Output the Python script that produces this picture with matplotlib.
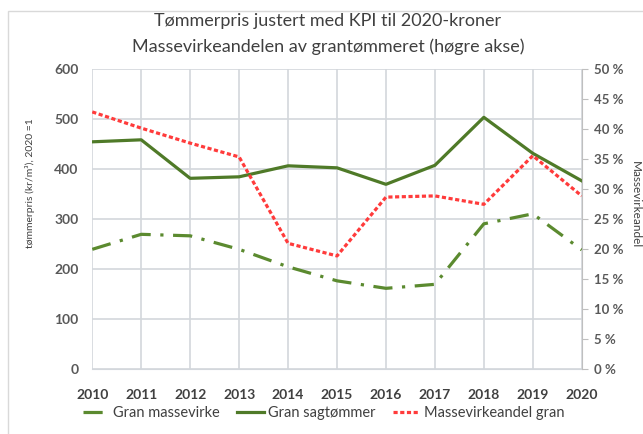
import matplotlib
matplotlib.use("Agg")
import matplotlib.pyplot as plt
from matplotlib.patches import Rectangle
from matplotlib.ticker import FuncFormatter

plt.rcParams['font.family'] = ['Lato', 'DejaVu Sans']

years = [2010, 2011, 2012, 2013, 2014, 2015, 2016, 2017, 2018, 2019, 2020]
massevirke = [240, 270, 267, 240, 205, 177, 162, 170, 291, 311, 239]
sagtommer = [455, 459, 382, 385, 407, 403, 370, 408, 504, 432, 377]
andel = [42.9, 40.2, 37.7, 35.4, 21.0, 18.9, 28.7, 28.9, 27.5, 35.6, 28.9]

green = '#4f7a28'
green2 = '#5b8a2f'
red = '#ff3b3b'
grid_c = '#d3d7dc'
txt_c = '#595959'

fig = plt.figure(figsize=(6.43, 4.34), dpi=100)
fig.patches.append(Rectangle((0.013, -0.01), 1.0, 0.985, transform=fig.transFigure,
                             fill=False, edgecolor='#d9d9d9', linewidth=1))

ax = fig.add_axes([0.1435, 0.149, 0.7612, 0.6913])
ax2 = ax.twinx()

l1, = ax.plot(years, massevirke, color=green2, lw=2.3, dashes=(6, 3, 1, 3),
              label='Gran massevirke')
l2, = ax.plot(years, sagtommer, color=green, lw=2.3, label='Gran sagtømmer')
l3, = ax2.plot(years, andel, color=red, lw=2.3, dashes=(1.3, 0.8), label='Massevirkeandel gran')

ax.set_xlim(2010, 2020)
ax.set_ylim(0, 600)
ax.set_yticks(range(0, 601, 100))
ax.set_xticks(years)
ax2.set_ylim(0, 50)
ax2.set_yticks(range(0, 51, 5))
ax2.yaxis.set_major_formatter(FuncFormatter(lambda v, p: f'{int(v)} %'))

ax.grid(True, color=grid_c, lw=1.2)
ax.set_axisbelow(True)
for s in ['top', 'left', 'right']:
    ax.spines[s].set_visible(False)
    ax2.spines[s].set_visible(False)
ax.spines['bottom'].set_color(grid_c)
ax2.spines['bottom'].set_visible(False)
ax2.spines['right'].set_visible(True)
ax2.spines['right'].set_color('#bfbfbf')

ax.tick_params(axis='y', length=0, labelsize=10, labelcolor=txt_c, pad=10)
ax.tick_params(axis='x', length=0, labelsize=10, labelcolor='#404040', pad=14)
ax2.tick_params(axis='y', length=4, color='#bfbfbf', labelsize=9.5, labelcolor=txt_c, pad=5)
for lab in ax.get_xticklabels() + ax.get_yticklabels() + ax2.get_yticklabels():
    lab.set_fontweight('bold')

ax.set_ylabel('tømmerpris (kr/m³), 2020 =1', fontsize=7.5, color='#404040')
ax.yaxis.set_label_coords(-0.118, 0.62)
ax2.set_ylabel('Massevirkeandel', fontsize=8.5, color='#404040', rotation=270, va='center')
ax2.yaxis.set_label_coords(1.11, 0.55)

fig.text(0.51, 0.952, 'Tømmerpris justert med KPI til 2020-kroner', ha='center', va='center',
         fontsize=13, color='#404040')
fig.text(0.51, 0.893, 'Massevirkeandelen av grantømmeret (høgre akse)', ha='center', va='center',
         fontsize=13, color='#404040')

fig.legend(handles=[l1, l2, l3], loc='center', bbox_to_anchor=(0.503, 0.048), ncol=3,
           frameon=False, fontsize=10.5, handlelength=1.8, handletextpad=0.3, columnspacing=1.2,
           labelcolor='#404040')

fig.savefig('out.png', dpi=100)
